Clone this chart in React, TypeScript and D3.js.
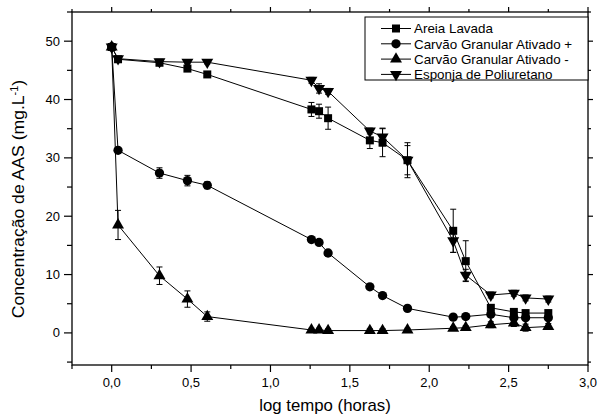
import React from 'react';
import * as d3 from 'd3';

// log do tempo (horas)
const logTempo = [0, 0.04, 0.301, 0.477, 0.602, 1.258, 1.306, 1.363, 1.626, 1.706, 1.863, 2.151, 2.23, 2.388, 2.533, 2.607, 2.75];

const areiaLavada = [49.0, 46.9, 46.3, 45.3, 44.3, 38.3, 38.0, 36.8, 33.0, 32.6, 29.6, 17.5, 12.3, 4.3, 3.6, 3.4, 3.4];
const areiaErro = [0, 0, 0.3, 0.5, 0.3, 1.2, 1.2, 1.9, 1.4, 2.4, 3.0, 3.7, 3.5, 0.5, 0.4, 0.3, 0.3];

const carvaoMais = [49.0, 31.3, 27.4, 26.1, 25.3, 16.0, 15.5, 13.7, 7.9, 6.4, 4.2, 2.7, 2.8, 3.2, 2.6, 2.6, 2.6];
const carvaoMaisErro = [0, 0, 0.9, 0.9, 0.6, 0.3, 0.3, 0.3, 0.3, 0.3, 0.3, 0.3, 0.3, 0.3, 0.3, 0.3, 0.3];

const carvaoMenos = [49.0, 18.5, 9.8, 5.8, 2.8, 0.5, 0.5, 0.4, 0.4, 0.4, 0.5, 0.8, 0.9, 1.4, 1.7, 0.9, 1.1];
const carvaoMenosErro = [0, 2.5, 1.5, 1.4, 0.8, 0.3, 0.3, 0.3, 0.3, 0.3, 0.3, 0.3, 0.3, 0.5, 0.6, 0.6, 0.5];

const esponja = [49.0, 47.0, 46.5, 46.4, 46.4, 43.3, 41.9, 41.4, 34.6, 33.6, 29.6, 15.8, 9.9, 6.5, 6.8, 6.0, 5.8];
const esponjaErro = [0, 0.3, 0.3, 0.3, 0.3, 0.5, 0.8, 0.5, 0.5, 1.5, 2.5, 2.0, 1.0, 0.5, 0.5, 0.5, 0.5];

const nomes = ['Areia Lavada', 'Carvão Granular Ativado +', 'Carvão Granular Ativado -', 'Esponja de Poliuretano'];
const xTicks = [0, 0.5, 1, 1.5, 2, 2.5, 3];
const yTicks = [0, 10, 20, 30, 40, 50];

const W = 600, H = 418;
const margin = { top: 12, right: 12, bottom: 53, left: 72 };
const font = '"Liberation Sans", Arial, sans-serif';

const series = [
  { nome: nomes[0], valores: areiaLavada, erro: areiaErro, simbolo: d3.symbolSquare, tamanho: 64, rot: 0 },
  { nome: nomes[1], valores: carvaoMais, erro: carvaoMaisErro, simbolo: d3.symbolCircle, tamanho: 68, rot: 0 },
  { nome: nomes[2], valores: carvaoMenos, erro: carvaoMenosErro, simbolo: d3.symbolTriangle, tamanho: 62, rot: 0 },
  { nome: nomes[3], valores: esponja, erro: esponjaErro, simbolo: d3.symbolTriangle, tamanho: 62, rot: 180 },
];

export default function App() {
  const x = d3.scaleLinear().domain([-0.25, 3.0]).range([margin.left, W - margin.right]);
  const y = d3.scaleLinear().domain([-5.5, 55]).range([H - margin.bottom, margin.top]);
  const [x0, x1] = x.range();
  const [y0, y1] = y.range();
  const fmt = (v: number) => d3.format('.1f')(v).replace('.', ',');

  const xMinor = d3.range(-0.25, 3.01, 0.25).filter(v => Math.abs(v * 2 - Math.round(v * 2)) > 0.01);
  const yMinor = d3.range(-5, 56, 5).filter(v => v % 10 !== 0 && y(v) <= y0 && y(v) >= y1);

  const line = d3.line<number>().x((_, i) => x(logTempo[i])).y(d => y(d));

  return (
    <svg width={W} height={H} style={{ position: 'absolute', left: 0, top: 0, background: '#fff' }}>
      {/* moldura */}
      <rect x={x0} y={y1} width={x1 - x0} height={y0 - y1} fill="none" stroke="#000" strokeWidth={1.3} />

      {/* ticks x */}
      {xTicks.map(t => (
        <g key={'xt' + t}>
          <line x1={x(t)} x2={x(t)} y1={y0} y2={y0 + 7} stroke="#000" strokeWidth={1.2} />
          <line x1={x(t)} x2={x(t)} y1={y1} y2={y1 - 5} stroke="#000" strokeWidth={1.2} />
          <text x={x(t)} y={y0 + 22} textAnchor="middle" fontFamily={font} fontSize={13}>{fmt(t)}</text>
        </g>
      ))}
      {xMinor.map(t => (
        <g key={'xm' + t}>
          <line x1={x(t)} x2={x(t)} y1={y0} y2={y0 + 4} stroke="#000" strokeWidth={1.2} />
          <line x1={x(t)} x2={x(t)} y1={y1} y2={y1 - 3} stroke="#000" strokeWidth={1.2} />
        </g>
      ))}

      {/* ticks y */}
      {yTicks.map(t => (
        <g key={'yt' + t}>
          <line x1={x0} x2={x0 - 8} y1={y(t)} y2={y(t)} stroke="#000" strokeWidth={1.2} />
          <line x1={x1} x2={x1 + 5} y1={y(t)} y2={y(t)} stroke="#000" strokeWidth={1.2} />
          <text x={x0 - 12} y={y(t) + 4.5} textAnchor="end" fontFamily={font} fontSize={13}>{t}</text>
        </g>
      ))}
      {yMinor.map(t => (
        <g key={'ym' + t}>
          <line x1={x0} x2={x0 - 5} y1={y(t)} y2={y(t)} stroke="#000" strokeWidth={1.2} />
          <line x1={x1} x2={x1 + 3} y1={y(t)} y2={y(t)} stroke="#000" strokeWidth={1.2} />
        </g>
      ))}

      {/* títulos dos eixos */}
      <text transform={`translate(325,411) scale(1.05,1)`} textAnchor="middle" fontFamily={font} fontSize={16}>log tempo (horas)</text>
      <text transform={`translate(24,199) rotate(-90) scale(1.1,1)`} textAnchor="middle" fontFamily={font} fontSize={16}>
        Concentração de AAS (mg.L<tspan dy={-6} fontSize={10}>-1</tspan><tspan dy={6}>)</tspan>
      </text>

      {/* séries */}
      {series.map(s => (
        <g key={s.nome}>
          <path d={line(s.valores) || ''} fill="none" stroke="#000" strokeWidth={1} />
          {s.valores.map((v, i) => s.erro[i] > 0 ? (
            <g key={i} stroke="#000" strokeWidth={1}>
              <line x1={x(logTempo[i])} x2={x(logTempo[i])} y1={y(v - s.erro[i])} y2={y(v + s.erro[i])} />
              <line x1={x(logTempo[i]) - 3} x2={x(logTempo[i]) + 3} y1={y(v + s.erro[i])} y2={y(v + s.erro[i])} />
              <line x1={x(logTempo[i]) - 3} x2={x(logTempo[i]) + 3} y1={y(v - s.erro[i])} y2={y(v - s.erro[i])} />
            </g>
          ) : null)}
          {s.valores.map((v, i) => (
            <path key={'m' + i} d={d3.symbol().type(s.simbolo).size(s.tamanho)() || ''}
              transform={`translate(${x(logTempo[i])},${y(v)}) rotate(${s.rot})`} fill="#000" />
          ))}
        </g>
      ))}

      {/* legenda */}
      <rect x={365} y={17} width={x1 - 365} height={63} fill="#fff" stroke="#000" strokeWidth={1} />
      {series.map((s, i) => (
        <g key={'lg' + i} transform={`translate(0,${28.5 + i * 15.3})`}>
          <line x1={381} x2={411} y1={0} y2={0} stroke="#000" strokeWidth={1} />
          <path d={d3.symbol().type(s.simbolo).size(s.tamanho)() || ''} transform={`translate(396,0) rotate(${s.rot})`} fill="#000" />
          <text x={414} y={4.8} fontFamily={font} fontSize={13.4}>{s.nome}</text>
        </g>
      ))}
    </svg>
  );
}
